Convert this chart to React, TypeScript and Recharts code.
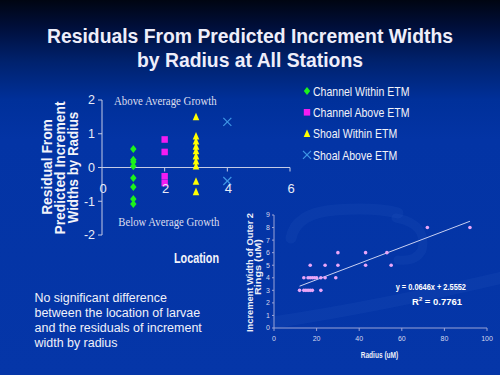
import React from 'react';
import { ScatterChart, Scatter, XAxis, YAxis, ReferenceLine, Legend } from 'recharts';

// main residual plot: location on x, residual on y
const LOCATIONS = [1, 2, 3, 4];
const SERIES_NAMES = ['Channel Within ETM', 'Channel Above ETM', 'Shoal Within ETM', 'Shoal Above ETM'];
const CHANNEL_WITHIN = [0.55, 0.23, 0.16, 0.04, -0.31, -0.58, -0.93, -1.08];
const CHANNEL_ABOVE = [0.83, 0.46, -0.26, -0.46];
const SHOAL_WITHIN = [1.5, 0.93, 0.78, 0.63, 0.49, 0.34, 0.19, 0.04, -0.41, -0.72];
const SHOAL_ABOVE = [1.35, -0.4];
const LOC_TICKS = [0, 2, 4, 6];
const RESID_TICKS = [-2, -1, 0, 1, 2];

// inset: increment width vs radius
const RADIUS = [12, 14, 15, 16, 17, 18, 22, 14, 16, 17, 18, 19, 20, 22, 24, 29, 17, 24, 30, 43, 55, 30, 43, 53, 72, 92];
const WIDTH = [3, 3, 3, 3, 3, 3, 3, 4, 4, 4, 4, 4, 4, 4, 4, 4, 5, 5, 5, 5, 5, 6, 6, 6, 8, 8];
const TREND_RADIUS = [12, 92];
const TREND_WIDTH = [3.33, 8.5];
const RADIUS_TICKS = [0, 20, 40, 60, 80, 100];
const WIDTH_TICKS = [0, 1, 2, 3, 4, 5, 6, 7, 8, 9];

const SANS = '"Liberation Sans", Arial, sans-serif';
const SERIF = '"Liberation Serif", "Times New Roman", serif';
const AXIS = '#c4cbe6';

const diamond = ({ cx, cy }: any) => (
  <path d={`M${cx},${cy - 4}L${cx + 3.2},${cy}L${cx},${cy + 4}L${cx - 3.2},${cy}Z`} fill="#1cf21c" />
);
const square = ({ cx, cy }: any) => (
  <rect x={cx - 3.2} y={cy - 3.3} width={6.4} height={6.6} fill="#f21cf2" />
);
const triangle = ({ cx, cy }: any) => (
  <path d={`M${cx},${cy - 4.2}L${cx + 3.3},${cy + 3.4}L${cx - 3.3},${cy + 3.4}Z`} fill="#ffff00" />
);
const cross = ({ cx, cy }: any) => (
  <g stroke="#3f98e6" strokeWidth={1.2}>
    <line x1={cx - 4} y1={cy - 4} x2={cx + 4} y2={cy + 4} />
    <line x1={cx - 4} y1={cy + 4} x2={cx + 4} y2={cy - 4} />
  </g>
);
const dot = ({ cx, cy }: any) => <circle cx={cx} cy={cy} r={1.8} fill="#eaa6f8" />;

const SERIES = [
  { name: SERIES_NAMES[0], loc: LOCATIONS[0], values: CHANNEL_WITHIN, shape: diamond },
  { name: SERIES_NAMES[1], loc: LOCATIONS[1], values: CHANNEL_ABOVE, shape: square },
  { name: SERIES_NAMES[2], loc: LOCATIONS[2], values: SHOAL_WITHIN, shape: triangle },
  { name: SERIES_NAMES[3], loc: LOCATIONS[3], values: SHOAL_ABOVE, shape: cross },
];

const insetData = RADIUS.map((r, i) => ({ radius: r, width: WIDTH[i] }));
const trendSegment = TREND_RADIUS.map((r, i) => ({ x: r, y: TREND_WIDTH[i] }));

// main plot box
const MAIN_TOP = 100;
const MAIN_PLOT_H = 135;
const ZERO_Y = MAIN_TOP + MAIN_PLOT_H / 2;

const LocationTick = (props: any) => {
  const { x, payload } = props;
  return (
    <g>
      {payload.value > 0 && <line x1={x} x2={x} y1={ZERO_Y} y2={ZERO_Y + 4} stroke={AXIS} />}
      <text x={x + 1} y={ZERO_Y + 25} textAnchor="middle" fill="#e8ebf6" fontSize={13} fontFamily={SANS}>
        {payload.value}
      </text>
    </g>
  );
};

const renderLegend = (props: any) => {
  // keep the series order, not the alphabetical one
  const items = [...(props.payload || [])].sort(
    (a: any, b: any) => SERIES_NAMES.indexOf(a.value) - SERIES_NAMES.indexOf(b.value)
  );
  return (
    <svg width={200} height={90} style={{ display: 'block' }}>
      {items.map((it: any, i: number) => {
        const s = SERIES.find((d) => d.name === it.value) || SERIES[i];
        const cy = 11 + i * 21.3;
        return (
          <g key={it.value}>
            {s.shape({ cx: 7, cy })}
            <text transform={`translate(13 ${cy + 4.6}) scale(0.81 1)`} fill="#f2f3fa" fontSize={13} fontFamily={SANS}>
              {it.value}
            </text>
          </g>
        );
      })}
    </svg>
  );
};

export default function App() {
  return (
    <div style={{ position: 'absolute', left: 0, top: 0, width: 500, height: 375, overflow: 'hidden', fontFamily: SANS }}>
      <div
        style={{
          position: 'absolute', inset: 0,
          background: 'linear-gradient(to bottom, #000512 0px, #000f3c 28px, #00226e 62px, #00309a 100px, #0334a5 140px, #0536a8 375px)',
        }}
      />
      <svg width={500} height={375} style={{ position: 'absolute', left: 0, top: 0 }}>
        <g fill="none" stroke="#3d6ad0" strokeOpacity={0.12} strokeLinecap="round">
          <path d="M291 238 Q296 213 335 210 Q375 207 398 213" strokeWidth={11} />
          <path d="M396 218 Q428 224 422 250 Q416 262 398 260" strokeWidth={9} />
          <path d="M276 322 Q380 306 500 278" strokeWidth={12} />
        </g>
      </svg>

      <div style={{ position: 'absolute', left: 0, top: 0 }}>
        <ScatterChart width={500} height={260} margin={{ top: MAIN_TOP, right: 210, bottom: 5, left: 72 }}>
          <XAxis
            type="number" dataKey="x" domain={[0, 6]} ticks={LOC_TICKS} height={20}
            axisLine={false} tickLine={false} tick={<LocationTick />} interval={0}
          />
          <YAxis
            type="number" dataKey="y" domain={[-2, 2]} ticks={RESID_TICKS} width={30} interval={0}
            axisLine={{ stroke: AXIS }} tickLine={{ stroke: AXIS }} tickSize={4} tickMargin={3}
            tick={{ fill: '#e8ebf6', fontSize: 12.5, fontFamily: SANS }}
          />
          <ReferenceLine y={0} stroke={AXIS} />
          {SERIES.map((s) => (
            <Scatter
              key={s.name}
              name={s.name}
              data={s.values.map((v) => ({ x: s.loc, y: v }))}
              fill={s.name === SERIES_NAMES[3] ? '#3f98e6' : '#fff'}
              shape={(p: any) => s.shape(p)}
              isAnimationActive={false}
            />
          ))}
          <Legend
            layout="vertical" align="center" verticalAlign="middle"
            wrapperStyle={{ position: 'absolute', left: 300, top: 80, width: 200 }}
            content={renderLegend}
          />
        </ScatterChart>
      </div>

      <div style={{ position: 'absolute', left: 240, top: 200 }}>
        <ScatterChart width={260} height={175} margin={{ top: 15, right: 13, bottom: 27, left: 14 }}>
          <XAxis
            type="number" dataKey="radius" domain={[0, 100]} ticks={RADIUS_TICKS} height={20} interval={0}
            axisLine={{ stroke: '#9aa3d6' }} tickLine={{ stroke: '#9aa3d6' }} tickSize={3} tickMargin={5}
            tick={{ fill: '#d4d8ee', fontSize: 7, fontFamily: SANS }}
          />
          <YAxis
            type="number" dataKey="width" domain={[0, 9]} ticks={WIDTH_TICKS} width={20} interval={0}
            axisLine={{ stroke: '#9aa3d6' }} tickLine={{ stroke: '#9aa3d6' }} tickSize={2} tickMargin={2}
            tick={{ fill: '#d4d8ee', fontSize: 7, fontFamily: SANS }}
          />
          <ReferenceLine segment={trendSegment} stroke="#c9d0f2" strokeWidth={1} ifOverflow="visible" />
          <Scatter data={insetData} fill="#eaa6f8" shape={dot} isAnimationActive={false} />
        </ScatterChart>
      </div>

      <svg width={500} height={375} style={{ position: 'absolute', left: 0, top: 0, pointerEvents: 'none' }}>
        <g fill="#eeeefa" fontFamily={SANS} fontWeight="bold" fontSize={20} textAnchor="middle">
          <text x={250} y={42.7} textLength={406} lengthAdjust="spacingAndGlyphs">Residuals From Predicted Increment Widths</text>
          <text x={250} y={66.5} textLength={226} lengthAdjust="spacingAndGlyphs">by Radius at All Stations</text>
        </g>

        <g fill="#dcdeee" fontFamily={SERIF} fontSize={12.5}>
          <text x={114} y={105.3} textLength={102.7} lengthAdjust="spacingAndGlyphs">Above Average Growth</text>
          <text x={118.3} y={225.7} textLength={101} lengthAdjust="spacingAndGlyphs">Below Average Growth</text>
        </g>

        <g fill="#f2f3fa" fontFamily={SANS} fontWeight="bold" fontSize={15} textAnchor="middle">
          <text x={196.5} y={263.3} textLength={45} lengthAdjust="spacingAndGlyphs">Location</text>
          <text x={51.7} y={167} transform="rotate(-90 51.7 167)" textLength={95.7} lengthAdjust="spacingAndGlyphs">Residual From</text>
          <text x={65} y={168} transform="rotate(-90 65 168)" textLength={133} lengthAdjust="spacingAndGlyphs">Predicted Increment</text>
          <text x={77.7} y={167.5} transform="rotate(-90 77.7 167.5)" textLength={111.6} lengthAdjust="spacingAndGlyphs">Widths by Radius</text>
        </g>

        <g fill="#f0f1fa" fontFamily={SANS} fontSize={12}>
          <text x={34.5} y={301.8} textLength={132.3} lengthAdjust="spacingAndGlyphs">No significant difference</text>
          <text x={34.5} y={316.8} textLength={165.7} lengthAdjust="spacingAndGlyphs">between the location of larvae</text>
          <text x={34.5} y={331.8} textLength={167.3} lengthAdjust="spacingAndGlyphs">and the residuals of increment</text>
          <text x={34.5} y={346.8} textLength={83} lengthAdjust="spacingAndGlyphs">width by radius</text>
        </g>

        <g fill="#eceef8" fontFamily={SANS} fontWeight="bold" fontSize={8.5} textAnchor="middle">
          <text x={253} y={272.5} transform="rotate(-90 253 272.5)" textLength={119} lengthAdjust="spacingAndGlyphs">Increment Width of Outer 2</text>
          <text x={261} y={267} transform="rotate(-90 261 267)" textLength={56} lengthAdjust="spacingAndGlyphs">Rings (uM)</text>
          <text x={379.5} y={358} textLength={37.6} lengthAdjust="spacingAndGlyphs">Radius (uM)</text>
        </g>

        <g fill="#ffffff" fontFamily={SANS} fontWeight="bold" fontSize={9.5}>
          <text x={395.7} y={289.7} textLength={70.3} lengthAdjust="spacingAndGlyphs">y = 0.0646x + 2.5552</text>
          <text x={412} y={305}>
            R<tspan fontSize={6} dy={-4}>2</tspan><tspan dy={4}> = 0.7761</tspan>
          </text>
        </g>
      </svg>
    </div>
  );
}
